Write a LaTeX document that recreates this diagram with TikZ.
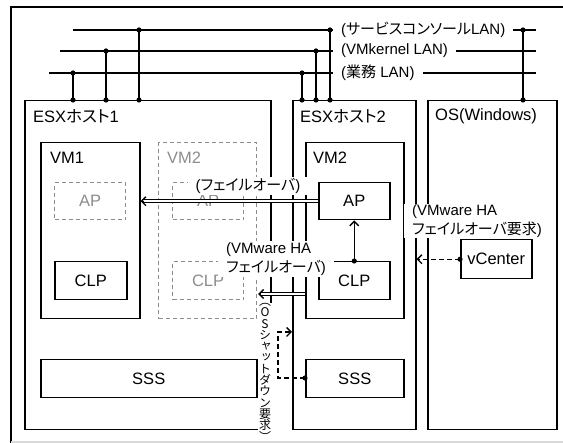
\documentclass[tikz,border=0pt]{standalone}
\usepackage{fontspec}
\setmainfont{Liberation Sans}
\newfontfamily\jp[RawFeature=+palt]{Noto Sans CJK JP}
\newfontfamily\jpv[RawFeature=+vert]{Noto Sans CJK JP}
\usetikzlibrary{arrows.meta,calc}
\newcommand\BoxFont{\fontsize{16.5}{19}\selectfont}
\newcommand\NoteFont{\fontsize{15}{19.5}\selectfont}
\newcommand\VertFont{\fontsize{12}{11.3}\selectfont\lineskiplimit-20pt\relax\jpv}
\definecolor{ghost}{gray}{0.55}
\definecolor{frameedge}{gray}{0.85}
\begin{document}
\begin{tikzpicture}[x=1pt,y=-1pt,
  box/.style={draw, line width=1.5pt, inner sep=0pt, anchor=north west, font=\BoxFont},
  gbox/.style={box, draw=ghost, text=ghost, line width=1.2pt, dash pattern=on 4pt off 3pt},
  title/.style={anchor=west, inner sep=0pt, font=\BoxFont},
  note/.style={fill=white, inner xsep=8pt, inner ysep=1pt, font=\NoteFont, align=left},
  lan/.style={line width=1.6pt},
  tipA/.style={-{Straight Barb[length=4.5pt,width=9pt]}, line width=1.3pt},
  dbl/.style={double, double distance=1.5pt, line width=1.1pt},
  dsh/.style={line width=1.3pt, dash pattern=on 5pt off 3pt}]
\useasboundingbox (0,0) rectangle (563,443);
% outer frame
\draw[line width=1.5pt] (11,443) -- (11,7) -- (563,7);
\draw[frameedge, line width=1.5pt] (11,442) -- (563,442);

% hosts
\node[box, minimum width=246pt, minimum height=329pt] (h1) at (24,100) {};
\node[box, minimum width=123pt, minimum height=329pt] (h2) at (292,100) {};
\node[box, minimum width=129pt, minimum height=329pt] (os) at (427,100) {};
\node[title] (h1t) at (33,116) {ESX{\jp ホスト}1};
\node[title] (h2t) at (300,116) {ESX{\jp ホスト}2};
\node[title] (ost) at (435,116) {OS(Windows)};

% VMs
\node[box, minimum width=99pt, minimum height=176pt] (vm1) at (40,142) {};
\node[gbox, minimum width=98pt, minimum height=176pt] (vm2g) at (158,142) {};
\node[box, minimum width=98pt, minimum height=176pt] (vm2) at (305,142) {};
\node[title] (vm1t) at (50,158) {VM1};
\node[title, text=ghost] (vm2gt) at (167,158) {VM2};
\node[title] (vm2t) at (313,158) {VM2};

\node[gbox, minimum width=71pt, minimum height=37pt] (ap1g) at (54,182) {};
\node[font=\BoxFont, text=ghost] at (ap1g.center) {AP};
\node[box, minimum width=72pt, minimum height=38pt] (clp1) at (54,261) {};
\node[font=\BoxFont] at (clp1.center) {CLP};
\node[gbox, minimum width=71pt, minimum height=37pt] (ap2g) at (172,182) {};
\node[font=\BoxFont, text=ghost] at (ap2g.center) {AP};
\node[gbox, minimum width=71pt, minimum height=38pt] (clp2g) at (172,261) {};
\node[font=\BoxFont, text=ghost] at (clp2g.center) {CLP};
\node[box, minimum width=71pt, minimum height=37pt] (ap2) at (318,182) {};
\node[font=\BoxFont] at (ap2.center) {AP};
\node[box, minimum width=71pt, minimum height=38pt] (clp2) at (318,261) {};
\node[font=\BoxFont] at (clp2.center) {CLP};
\node[box, minimum width=71pt, minimum height=39pt] (vc) at (460,239) {};
\node[font=\BoxFont] at (vc.center) {vCenter};
\node[box, minimum width=216pt, minimum height=38pt] (sss1) at (40,359) {};
\node[font=\BoxFont] at (sss1.center) {SSS};
\node[box, minimum width=98pt, minimum height=38pt] (sss2) at (305,359) {};
\node[font=\BoxFont] at (sss2.center) {SSS};

% LAN lines
\draw[lan] (73,30) coordinate (sc0) -- (536,30) coordinate (sc1);
\draw[lan] (60,51) coordinate (vk0) -- (536,51) coordinate (vk1);
\draw[lan] (49,73) coordinate (gm0) -- (536,73) coordinate (gm1);
\foreach \x/\y in {73/73, 106/51, 139/30, 302/73, 316/51, 330/30, 523/30}{
  \draw[lan] (\x,\y) -- (\x,100);
  \fill (\x,\y) circle (2.6pt);
  \fill (\x,100) circle (2.6pt);
}
\node[note, anchor=west] (lsc) at (333,30) {({\jp サービスコンソール}LAN)};
\node[note, anchor=west] (lvk) at (333,51) {(VMkernel LAN)};
\node[note, anchor=west] (lgm) at (333,73) {({\jp 業務} LAN)};

% notes
\node[note] (fo) at (248,186) {({\jp フェイルオーバ})};
\node[note, anchor=west] (vha) at (218,259) {(VMware HA\\{\jp フェイルオーバ})};
\node[note, anchor=west, inner ysep=0pt] (vhar) at (404,221) {(VMware HA\\{\jp フェイルオーバ要求})};
\node[fill=white, inner xsep=1.5pt, inner ysep=0pt, anchor=north, align=center,
  font=\VertFont] (osd) at (265,303)
  {（\\O\\S\\シ\\ャ\\ッ\\ト\\ダ\\ウ\\ン\\要\\求\\）};

% arrows
\coordinate (t1) at (vm1.east |- ap2.west);
\draw[dbl] (ap2.west) -- ($(t1)+(1.5,0)$);
\draw[tipA] ($(t1)+(3,0)$) -- (t1);
\coordinate (s2) at (vm2.west |- 0,294);
\coordinate (t2) at ($(vm2g.east |- 0,294)+(1,0)$);
\draw[dbl] (s2) -- ($(t2)+(1.5,0)$);
\draw[tipA] ($(t2)+(3,0)$) -- (t2);
\draw[tipA] (clp2.north) -- (ap2.south);
\fill (clp2.north) circle (2.6pt);
\draw[dsh] (vc.west) -- ($(vc.west -| h2.east)+(2,0)$);
\draw[tipA] ($(vc.west -| h2.east)+(3,0)$) -- (vc.west -| h2.east);
\fill (vc.west) circle (2.6pt);
\coordinate (k1) at (278,378);
\coordinate (k2) at (278,332);
\draw[dsh] (sss2.west |- k1) -- (k1) -- (k2) -- ($(k2 -| h2.west)+(-2,0)$);
\draw[tipA] ($(k2 -| h2.west)+(-3,0)$) -- (k2 -| h2.west);
\fill (sss2.west |- k1) circle (2.6pt);
\end{tikzpicture}
\end{document}
